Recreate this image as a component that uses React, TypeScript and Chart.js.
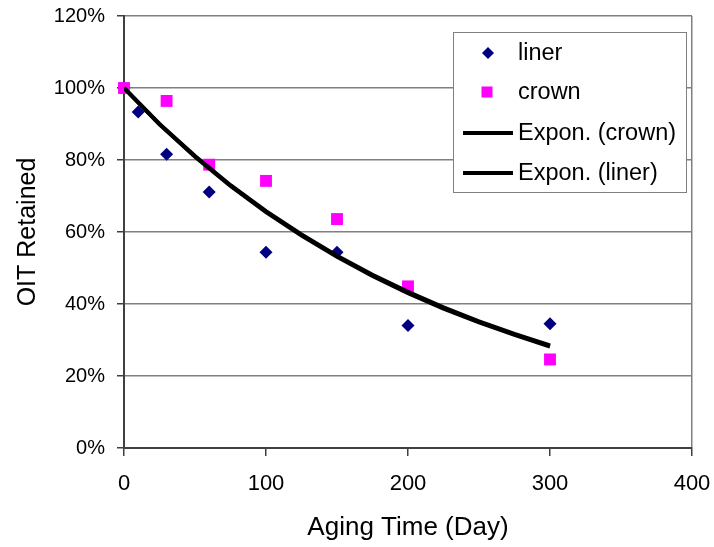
import React, { useEffect, useRef } from "react";
import { Chart, registerables } from "chart.js";

Chart.register(...registerables);

const linerDays = [0, 10, 30, 60, 100, 150, 200, 300];
const linerValues = [100, 93.3, 81.6, 71.1, 54.4, 54.4, 34.0, 34.5];
const crownDays = [0, 30, 60, 100, 150, 200, 300];
const crownValues = [100, 96.4, 78.7, 74.2, 63.6, 44.9, 24.6];
const trendDays = [0, 25, 50, 75, 100, 125, 150, 175, 200, 225, 250, 275, 300];
const crownTrend = [100, 90.0, 81.1, 73.0, 65.8, 59.3, 53.4, 48.1, 43.4, 39.1, 35.2, 31.7, 28.5];
const linerTrend = [100, 89.9, 80.9, 72.8, 65.5, 59.0, 53.1, 47.8, 43.0, 38.7, 34.9, 31.4, 28.2];
const yTicks = [0, 20, 40, 60, 80, 100, 120];
const xTicks = [0, 100, 200, 300, 400];
const seriesNames = ["liner", "crown", "Expon. (crown)", "Expon. (liner)"];

const FONT = "'Liberation Sans', Arial, sans-serif";

const legendPlugin = {
  id: "boxLegend",
  afterDraw(chart: any) {
    const ctx = chart.ctx;
    const x0 = 453, y0 = 32, w = 233, h = 160;
    ctx.save();
    ctx.fillStyle = "#ffffff";
    ctx.fillRect(x0, y0, w, h);
    ctx.strokeStyle = "#808080";
    ctx.lineWidth = 1;
    ctx.strokeRect(x0 + 0.5, y0 + 0.5, w, h);
    const rows = [53, 92, 133, 173];
    ctx.font = "23.5px " + FONT;
    ctx.textBaseline = "middle";
    ctx.textAlign = "left";
    [0, 1, 2, 3].forEach((di, i) => {
      const ds = chart.data.datasets[di];
      const cy = rows[i];
      if (ds.showLine) {
        ctx.strokeStyle = ds.borderColor;
        ctx.lineWidth = 4;
        ctx.beginPath();
        ctx.moveTo(463, cy);
        ctx.lineTo(513, cy);
        ctx.stroke();
      } else {
        ctx.fillStyle = ds.backgroundColor;
        if (ds.pointStyle === "rectRot") {
          ctx.beginPath();
          ctx.moveTo(488, cy - 6);
          ctx.lineTo(494, cy);
          ctx.lineTo(488, cy + 6);
          ctx.lineTo(482, cy);
          ctx.closePath();
          ctx.fill();
        } else {
          ctx.fillRect(481.5, cy - 5.5, 11, 11);
        }
      }
      ctx.fillStyle = "#000000";
      ctx.fillText(ds.label, 518, cy + 1);
    });
    ctx.restore();
  },
};

const zeroPad = (s: any) => {
  s.paddingTop = 0;
  s.paddingBottom = 0;
  s.paddingLeft = 0;
  s.paddingRight = 0;
};

export default function App() {
  const ref = useRef<HTMLCanvasElement | null>(null);
  useEffect(() => {
    document.body.style.margin = "0";
    const canvas = ref.current!;
    const pts = (xs: number[], ys: number[]) => xs.map((x, i) => ({ x, y: ys[i] }));
    const chart = new Chart(canvas, {
      type: "scatter",
      data: {
        datasets: [
          {
            label: seriesNames[0],
            data: pts(linerDays, linerValues),
            pointStyle: "rectRot",
            pointRadius: 6.5,
            pointHoverRadius: 6.5,
            backgroundColor: "#000080",
            borderColor: "#000080",
            borderWidth: 0,
            showLine: false,
            clip: false,
            order: 3,
          },
          {
            label: seriesNames[1],
            data: pts(crownDays, crownValues),
            pointStyle: "rect",
            pointRadius: 8.4,
            pointHoverRadius: 8.4,
            backgroundColor: "#ff00ff",
            borderColor: "#ff00ff",
            borderWidth: 0,
            showLine: false,
            clip: false,
            order: 2,
          },
          {
            label: seriesNames[2],
            data: pts(trendDays, crownTrend),
            showLine: true,
            pointRadius: 0,
            borderColor: "#000000",
            backgroundColor: "#000000",
            borderWidth: 4,
            tension: 0,
            order: 1,
          },
          {
            label: seriesNames[3],
            data: pts(trendDays, linerTrend),
            showLine: true,
            pointRadius: 0,
            borderColor: "#000000",
            backgroundColor: "#000000",
            borderWidth: 4,
            tension: 0,
            order: 0,
          },
        ],
      },
      options: {
        responsive: false,
        animation: false,
        devicePixelRatio: 1,
        layout: { padding: { left: 0, top: 16, right: 22, bottom: 0 } },
        plugins: {
          legend: { display: false },
          tooltip: { enabled: false },
        },
        scales: {
          x: {
            type: "linear",
            min: 0,
            max: 400,
            afterFit: (s: any) => { s.height = 99; zeroPad(s); },
            afterBuildTicks: (s: any) => { s.ticks = xTicks.map((v) => ({ value: v })); },
            ticks: {
              color: "#000000",
              font: { family: FONT, size: 22 },
              padding: 15,
              maxRotation: 0,
              callback: (v: any) => String(v),
            },
            grid: {
              drawOnChartArea: true,
              color: (c: any) => (c.tick && c.tick.value === 400 ? "#808080" : "rgba(0,0,0,0)"),
              lineWidth: 1.5,
              drawTicks: true,
              tickLength: 8,
              tickColor: "#404040",
            },
            border: { display: true, color: "#404040", width: 2 },
            title: {
              display: true,
              text: "Aging Time (Day)",
              color: "#000000",
              font: { family: FONT, size: 26 },
              padding: { top: 0, bottom: 4 },
            },
          },
          y: {
            type: "linear",
            min: 0,
            max: 120,
            afterFit: (s: any) => { s.width = 124; zeroPad(s); },
            afterBuildTicks: (s: any) => { s.ticks = yTicks.map((v) => ({ value: v })); },
            ticks: {
              color: "#000000",
              font: { family: FONT, size: 20 },
              padding: 12,
              callback: (v: any) => v + "%",
            },
            grid: {
              color: "#808080",
              lineWidth: 1.5,
              drawTicks: true,
              tickLength: 7,
              tickColor: "#404040",
            },
            border: { display: true, color: "#404040", width: 2 },
            title: {
              display: true,
              text: "OIT Retained",
              color: "#000000",
              font: { family: FONT, size: 25 },
              padding: { top: 13, bottom: 0 },
            },
          },
        },
      },
      plugins: [legendPlugin],
    });
    return () => chart.destroy();
  }, []);
  return (
    <div style={{ position: "absolute", left: 0, top: 0, width: 714, height: 547, background: "#fff" }}>
      <canvas ref={ref} width={714} height={547} style={{ width: 714, height: 547, display: "block" }} />
    </div>
  );
}
